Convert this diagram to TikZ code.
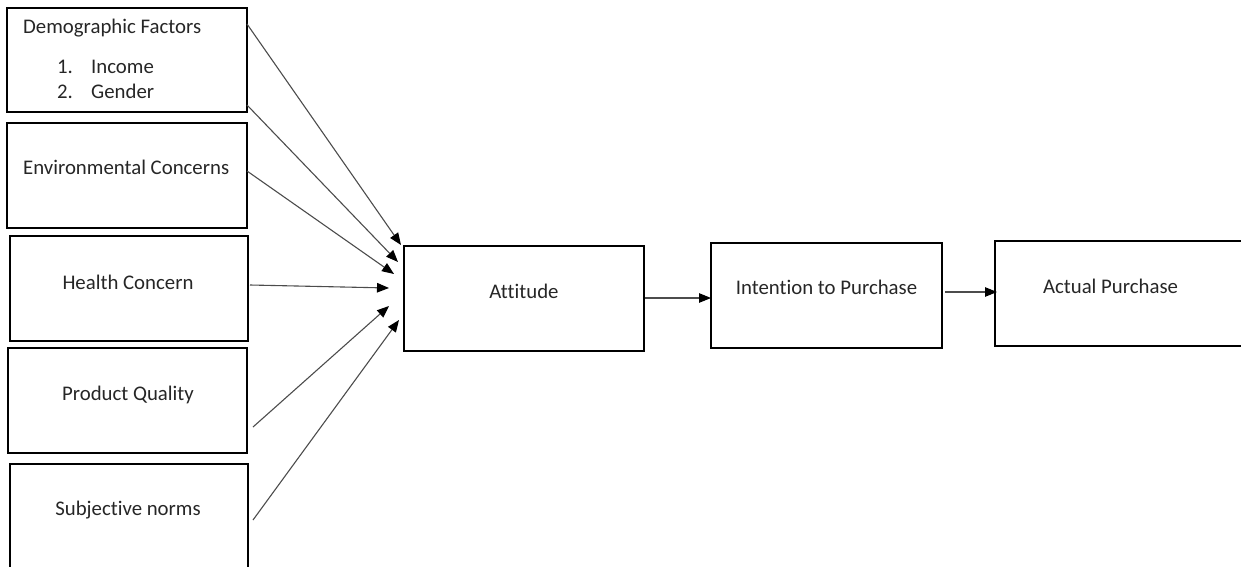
\documentclass[tikz,border=0pt]{standalone}
\usepackage{fontspec}
\setmainfont{Carlito}[Ligatures={NoCommon}]
\usetikzlibrary{arrows.meta}
\begin{document}
\begin{tikzpicture}[x=1pt,y=-1pt,
  box/.style={draw=black,line width=1.8pt},
  lbl/.style={inner sep=0pt,font=\fontsize{20.8}{25}\selectfont,text=black!85},
  arr/.style={draw=black!70,line width=1.1pt,-{Triangle[length=12pt,width=9.5pt,fill=black,color=black]}}]
\useasboundingbox (0,0) rectangle (1241,567);
\clip (0,0) rectangle (1241,567);
% boxes
\draw[box] (7,8) rectangle (247,112);
\draw[box] (7,123) rectangle (247,228);
\draw[box] (10,236) rectangle (248,341);
\draw[box] (8,348) rectangle (247,453);
\draw[box] (10,464) rectangle (248,600);
\draw[box] (404,246) rectangle (644,351);
\draw[box] (711,243) rectangle (942,348);
\draw[box] (995,241) rectangle (1260,346);
% labels
\node[lbl,anchor=base west] (tdemo) at (23,34) {Demographic Factors};
\node[lbl,anchor=base west] (t1) at (57,74) {1.};
\node[lbl,anchor=base west] (tinc) at (91,74) {Income};
\node[lbl,anchor=base west] (t2) at (57,99) {2.};
\node[lbl,anchor=base west] (tgen) at (91,99) {Gender};
\node[lbl,anchor=base west] (tenv) at (23,174) {Environmental Concerns};
\node[lbl,anchor=base] (thea) at (128,289) {Health Concern};
\node[lbl,anchor=base] (tpro) at (128,400) {Product Quality};
\node[lbl,anchor=base] (tsub) at (128,515) {Subjective norms};
\node[lbl,anchor=base] (tatt) at (524,298) {Attitude};
\node[lbl,anchor=base] (tint) at (826.5,294) {Intention to Purchase};
\node[lbl,anchor=base] (tact) at (1110.5,293) {Actual Purchase};
% connector end points
\coordinate (s1) at (247,24);   \coordinate (e1) at (401,245);
\coordinate (s2) at (247,105);  \coordinate (e2) at (398,262);
\coordinate (s3) at (247,171);  \coordinate (e3) at (394,274);
\coordinate (s4) at (250,285);  \coordinate (e4) at (389,288);
\coordinate (s5) at (253,427);  \coordinate (e5) at (389,306);
\coordinate (s6) at (253,520);  \coordinate (e6) at (399,320);
\coordinate (s7) at (645,298);  \coordinate (e7) at (711,298);
\coordinate (s8) at (945,292);  \coordinate (e8) at (997,292);
\draw[arr] (s1) -- (e1);
\draw[arr] (s2) -- (e2);
\draw[arr] (s3) -- (e3);
\draw[arr] (s4) -- (e4);
\draw[arr] (s5) -- (e5);
\draw[arr] (s6) -- (e6);
\draw[arr] (s7) -- (e7);
\draw[arr] (s8) -- (e8);
\end{tikzpicture}
\end{document}
